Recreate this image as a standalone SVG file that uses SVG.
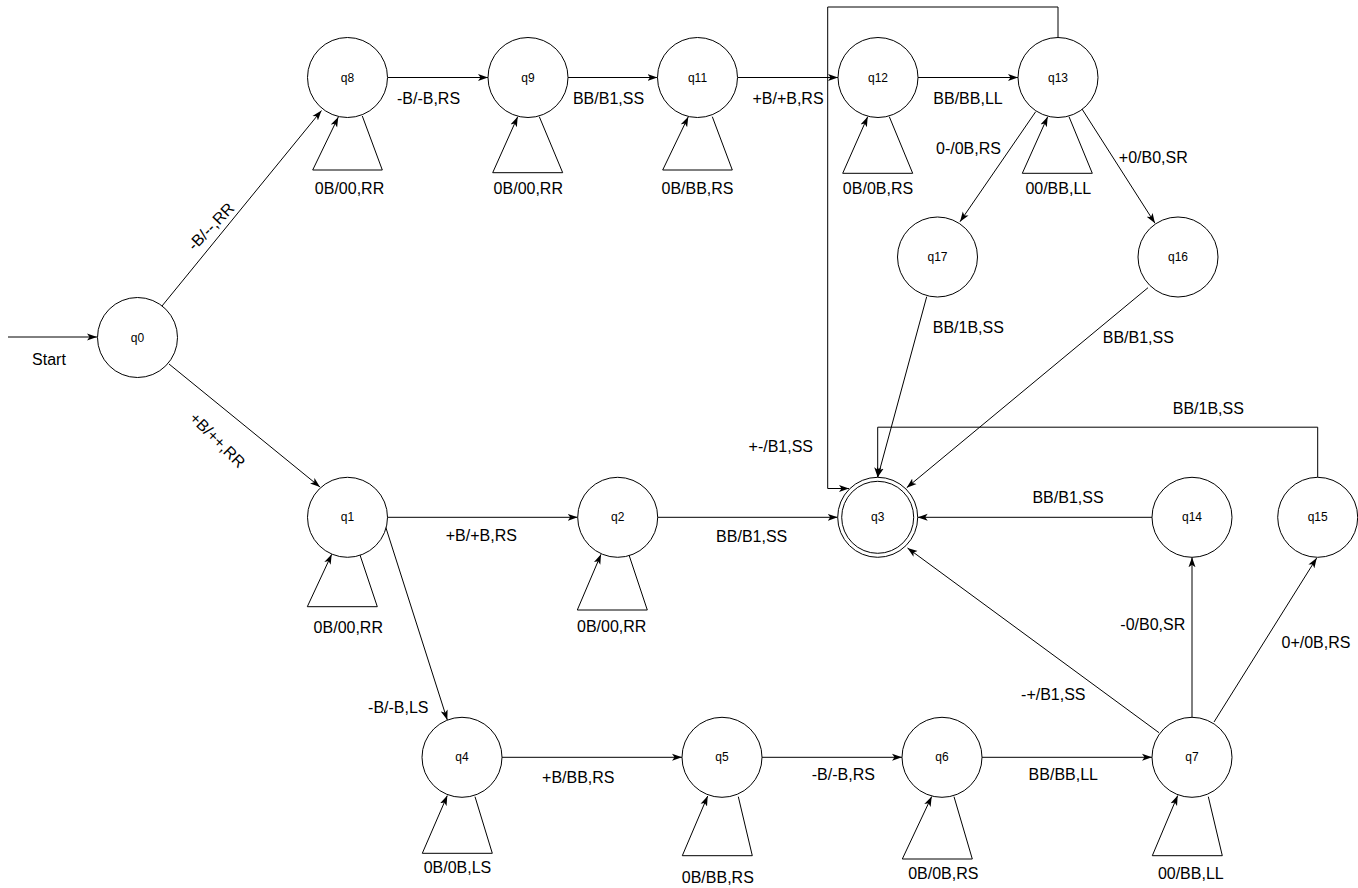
<svg xmlns="http://www.w3.org/2000/svg" width="1358" height="888" viewBox="0 0 1358 888">
<style>
.st{fill:#fff;stroke:#000;stroke-width:1}
.nl{font-family:"Liberation Sans",Arial,sans-serif;font-size:12px;fill:#000;text-anchor:middle}
.el{font-family:"Liberation Sans",Arial,sans-serif;font-size:16px;fill:#000;text-anchor:middle}
.e{fill:none;stroke:#000;stroke-width:1;marker-end:url(#arr)}
.l{fill:none;stroke:#000;stroke-width:1}
</style>
<defs>
<marker id="arr" viewBox="0 0 10 8" refX="10" refY="4" markerWidth="10" markerHeight="8" markerUnits="userSpaceOnUse" orient="auto">
<path d="M0,0.5 L10,4 L0,7.5 L2.5,4 Z" fill="#000"/>
</marker>
</defs>
<rect width="1358" height="888" fill="#fff"/>
<g id="connectors">
<line class="e" x1="8" y1="337" x2="97" y2="337"/>
<line class="e" x1="162" y1="306" x2="321.5" y2="110.5"/>
<line class="e" x1="169" y1="364" x2="320" y2="487"/>
<line class="e" x1="388" y1="77.5" x2="488" y2="77.5"/>
<line class="e" x1="568" y1="77.5" x2="657.5" y2="77.5"/>
<line class="e" x1="738" y1="77.5" x2="838" y2="77.5"/>
<line class="e" x1="918" y1="77.5" x2="1018" y2="77.5"/>
<polyline class="e" points="1058,37 1058,7 827.7,7 827.7,488.5 849,488.5"/>
<line class="e" x1="1035.7" y1="111.7" x2="960" y2="221.7"/>
<line class="e" x1="1082" y1="109" x2="1155" y2="223.3"/>
<line class="e" x1="926.7" y1="296.7" x2="877.7" y2="477.3"/>
<line class="e" x1="1148" y1="287.7" x2="906.7" y2="487.7"/>
<polyline class="e" points="1317.7,477 1317.7,427.2 877.7,427.2 877.7,477.3"/>
<line class="e" x1="1152" y1="517.3" x2="917.7" y2="517.3"/>
<line class="e" x1="657.7" y1="517.3" x2="837.7" y2="517.3"/>
<line class="e" x1="1159" y1="732.7" x2="907.5" y2="548"/>
<line class="e" x1="1192" y1="717" x2="1192" y2="557.3"/>
<line class="e" x1="1214" y1="722" x2="1316.7" y2="558"/>
<line class="e" x1="387.5" y1="517.3" x2="577.7" y2="517.3"/>
<line class="e" x1="385.7" y1="527" x2="447.3" y2="720"/>
<line class="e" x1="502" y1="757.3" x2="682" y2="757.3"/>
<line class="e" x1="762" y1="757.3" x2="902" y2="757.3"/>
<line class="e" x1="982" y1="757.3" x2="1152" y2="757.3"/>
<polyline class="e" points="362.3,116 382.3,170 312.7,170 338.3,117"/>
<polyline class="e" points="539.3,116.7 562.7,172.7 492.7,172.7 517.7,116.7"/>
<polyline class="e" points="712.3,116.7 732.3,170 662.7,170 688.3,116.7"/>
<polyline class="e" points="889.3,116.7 912.7,173.3 842.7,173.3 867.7,116.7"/>
<polyline class="e" points="1069,116.7 1092.3,173.3 1022.3,173.3 1047.7,116.7"/>
<polyline class="e" points="360,555 377.3,606.7 307.3,606.7 331.7,554.3"/>
<polyline class="e" points="629,555 647.3,610 577.3,610 601,554.3"/>
<polyline class="e" points="475,796.7 492.3,853.3 422.3,853.3 447.3,795.5"/>
<polyline class="e" points="738.3,796.7 752.3,855.7 682.3,855.7 707.7,796"/>
<polyline class="e" points="954,796.7 972.3,859 902.3,859 931.7,796.5"/>
<polyline class="e" points="1208.3,796.7 1222.3,855.7 1152.3,855.7 1177.7,795.5"/>
<text class="el" x="49" y="364.5">Start</text>
<text class="el" transform="translate(211,226.5) rotate(-46)" y="5.5">-B/--,RR</text>
<text class="el" transform="translate(217.5,440) rotate(45)" y="5.5">+B/++,RR</text>
<text class="el" x="428.5" y="103.5">-B/-B,RS</text>
<text class="el" x="608.5" y="103.5">BB/B1,SS</text>
<text class="el" x="788" y="104">+B/+B,RS</text>
<text class="el" x="968" y="104">BB/BB,LL</text>
<text class="el" x="968.5" y="153.5">0-/0B,RS</text>
<text class="el" x="349.5" y="194">0B/00,RR</text>
<text class="el" x="528.3" y="193.5">0B/00,RR</text>
<text class="el" x="697.5" y="193.5">0B/BB,RS</text>
<text class="el" x="878" y="193.5">0B/0B,RS</text>
<text class="el" x="1058.3" y="193.5">00/BB,LL</text>
<text class="el" x="1153.3" y="163.3">+0/B0,SR</text>
<text class="el" x="968.3" y="333.3">BB/1B,SS</text>
<text class="el" x="1138.3" y="343.3">BB/B1,SS</text>
<text class="el" x="780.8" y="451.7">+-/B1,SS</text>
<text class="el" x="1208.3" y="414">BB/1B,SS</text>
<text class="el" x="1068" y="503.3">BB/B1,SS</text>
<text class="el" x="751.7" y="541.7">BB/B1,SS</text>
<text class="el" x="481.3" y="541">+B/+B,RS</text>
<text class="el" x="348.3" y="633.3">0B/00,RR</text>
<text class="el" x="611.7" y="631.7">0B/00,RR</text>
<text class="el" x="1152.8" y="630">-0/B0,SR</text>
<text class="el" x="1316" y="648.3">0+/0B,RS</text>
<text class="el" x="1053.3" y="700">-+/B1,SS</text>
<text class="el" x="398.3" y="713.3">-B/-B,LS</text>
<text class="el" x="578.3" y="783.3">+B/BB,RS</text>
<text class="el" x="843.3" y="780">-B/-B,RS</text>
<text class="el" x="1063.3" y="780">BB/BB,LL</text>
<text class="el" x="457.5" y="873.3">0B/0B,LS</text>
<text class="el" x="717.8" y="883.3">0B/BB,RS</text>
<text class="el" x="943.3" y="879">0B/0B,RS</text>
<text class="el" x="1190.8" y="879">00/BB,LL</text>
</g>
<g id="q0"><circle class="st" cx="137.5" cy="337.5" r="40"/><text class="nl" x="137.5" y="341.5">q0</text></g>
<g id="q8"><circle class="st" cx="347.5" cy="77.5" r="40"/><text class="nl" x="347.5" y="81.5">q8</text></g>
<g id="q9"><circle class="st" cx="528" cy="77.5" r="40"/><text class="nl" x="528" y="81.5">q9</text></g>
<g id="q11"><circle class="st" cx="697.5" cy="77.5" r="40"/><text class="nl" x="697.5" y="81.5">q11</text></g>
<g id="q12"><circle class="st" cx="878" cy="77.5" r="40"/><text class="nl" x="878" y="81.5">q12</text></g>
<g id="q13"><circle class="st" cx="1058" cy="77.5" r="40"/><text class="nl" x="1058" y="81.5">q13</text></g>
<g id="q17"><circle class="st" cx="937.5" cy="257" r="40"/><text class="nl" x="937.5" y="261">q17</text></g>
<g id="q16"><circle class="st" cx="1178" cy="257" r="40"/><text class="nl" x="1178" y="261">q16</text></g>
<g id="q3"><circle class="st" cx="877.7" cy="517.3" r="40"/><circle class="st" cx="877.7" cy="517.3" r="36"/><text class="nl" x="877.7" y="521.3">q3</text></g>
<g id="q14"><circle class="st" cx="1192" cy="517.3" r="40"/><text class="nl" x="1192" y="521.3">q14</text></g>
<g id="q15"><circle class="st" cx="1317.7" cy="517.3" r="40"/><text class="nl" x="1317.7" y="521.3">q15</text></g>
<g id="q1"><circle class="st" cx="347.5" cy="517.3" r="40"/><text class="nl" x="347.5" y="521.3">q1</text></g>
<g id="q2"><circle class="st" cx="617.7" cy="517.3" r="40"/><text class="nl" x="617.7" y="521.3">q2</text></g>
<g id="q4"><circle class="st" cx="462" cy="757.3" r="40"/><text class="nl" x="462" y="761.3">q4</text></g>
<g id="q5"><circle class="st" cx="722" cy="757.3" r="40"/><text class="nl" x="722" y="761.3">q5</text></g>
<g id="q6"><circle class="st" cx="942" cy="757.3" r="40"/><text class="nl" x="942" y="761.3">q6</text></g>
<g id="q7"><circle class="st" cx="1192" cy="757.3" r="40"/><text class="nl" x="1192" y="761.3">q7</text></g>
</svg>
